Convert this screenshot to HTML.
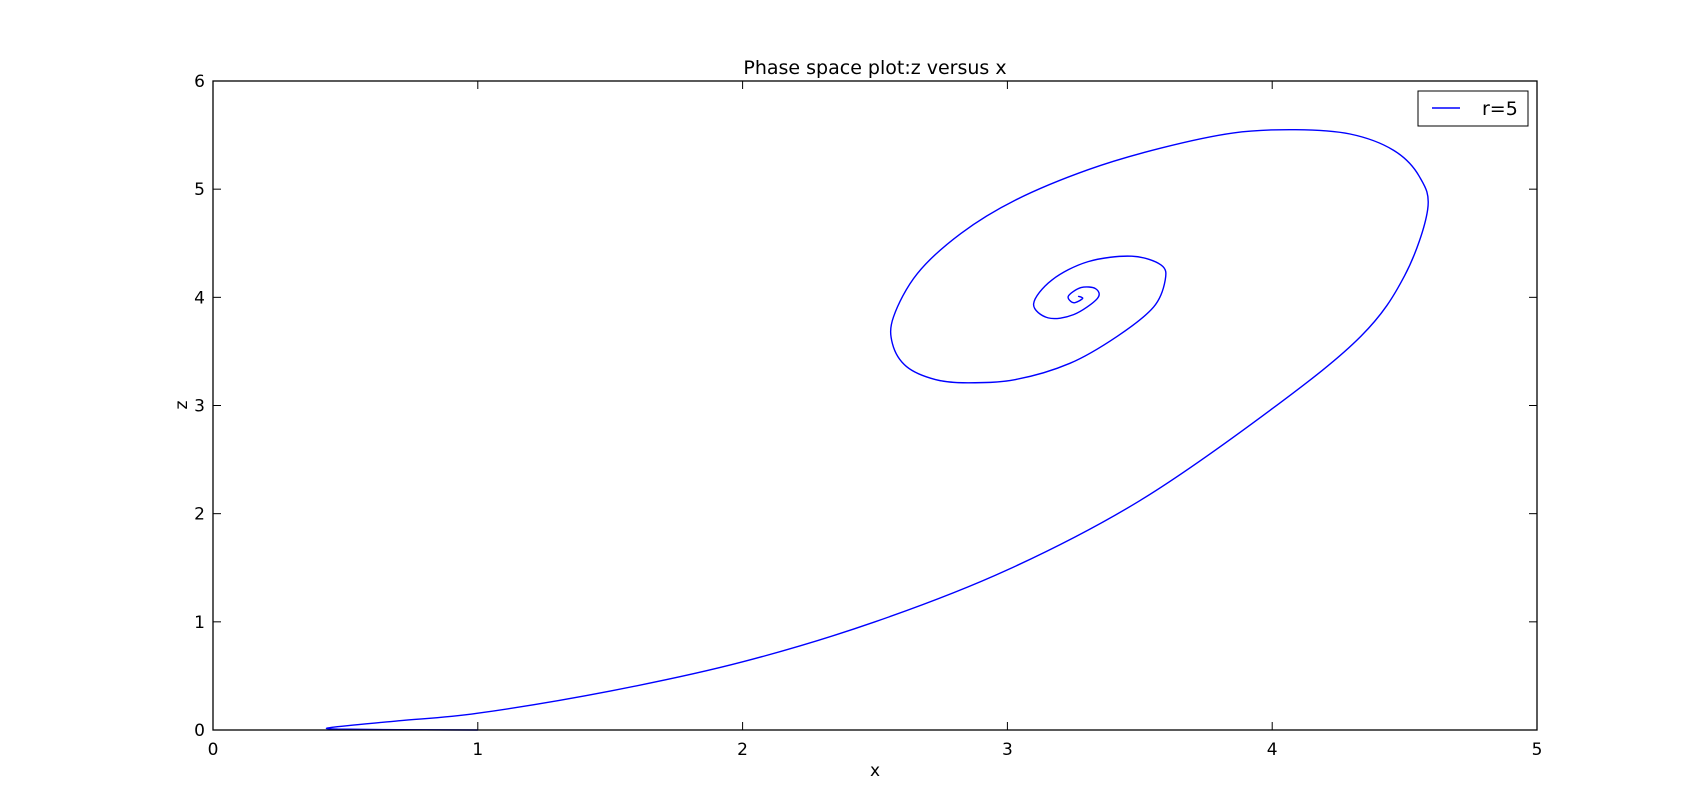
<!DOCTYPE html>
<html><head><meta charset="utf-8"><style>
body{margin:0;background:#fff;}
svg{display:block;font-family:"DejaVu Sans","Liberation Sans",sans-serif;}
</style></head><body>
<svg id="chart" width="1707" height="811" viewBox="0 0 1707 811" xmlns="http://www.w3.org/2000/svg">
<rect width="1707" height="811" fill="#fff"/>
<text x="875" y="74" font-size="19" text-anchor="middle">Phase space plot:z versus x</text>
<g id="ticks"></g>
<path id="curve" fill="none" stroke="#0000ff" stroke-width="1.4"/>
<rect x="213" y="81" width="1324" height="649" fill="none" stroke="#000" stroke-width="1.3"/>
<text x="875" y="776" font-size="17" text-anchor="middle">x</text>
<text x="187" y="405" font-size="17" text-anchor="middle" transform="rotate(-90 187 405)">z</text>
<g>
<rect x="1418" y="91" width="110" height="35" fill="#fff" stroke="#000" stroke-width="1"/>
<line x1="1432" y1="108" x2="1460" y2="108" stroke="#0000ff" stroke-width="1.4"/>
<text x="1482" y="115" font-size="19">r=5</text>
</g>
</svg>
<script>
const xTicks=[0,1,2,3,4,5];
const yTicks=[0,1,2,3,4,5,6];
const xs=[1,0.7,0.47,0.45,0.7,1.0,1.5,2.0,2.5,3.0,3.5,4.0,4.335,4.5,4.587,4.555,4.458,4.294,4.088,3.854,3.58,3.305,3.031,2.824,2.66,2.57,2.566,2.619,2.728,2.852,3.031,3.236,3.415,3.552,3.596,3.58,3.47,3.305,3.168,3.099,3.154,3.25,3.34,3.333,3.278,3.23,3.25,3.284,3.267];
const zs=[0,0.003,0.008,0.025,0.085,0.155,0.36,0.63,1.0,1.48,2.12,2.97,3.64,4.2,4.81,5.12,5.36,5.51,5.55,5.52,5.38,5.18,4.9,4.59,4.22,3.82,3.57,3.36,3.24,3.21,3.24,3.39,3.64,3.91,4.16,4.3,4.38,4.33,4.16,3.94,3.81,3.84,3.99,4.08,4.09,4.01,3.95,3.99,4.01];
const L=213,R=1537,T=81,B=730;
function sx(v){return L+(v-0)/(5-0)*(R-L);}
function sy(v){return B-(v-0)/(6-0)*(B-T);}
const NS="http://www.w3.org/2000/svg";
const g=document.getElementById('ticks');
function mk(tag,attrs){const e=document.createElementNS(NS,tag);for(const k in attrs)e.setAttribute(k,attrs[k]);g.appendChild(e);return e;}
xTicks.forEach(t=>{
  const x=sx(t);
  const a=mk('line',{x1:x,y1:B,x2:x,y2:B-8,stroke:'#000'});
  
  
  const b=mk('line',{x1:x,y1:T,x2:x,y2:T+8,stroke:'#000'});
  
  
  const tx=mk('text',{x:x,y:B+25,'font-size':17,'text-anchor':'middle'});
  tx.textContent=t;
  
  
});
yTicks.forEach(t=>{
  const y=sy(t);
  const a=mk('line',{x1:L,y1:y,x2:L+8,y2:y,stroke:'#000'});
  
  
  const b=mk('line',{x1:R,y1:y,x2:R-8,y2:y,stroke:'#000'});
  
  
  const tx=mk('text',{x:L-8,y:y+6,'font-size':17,'text-anchor':'end'});
  tx.textContent=t;
  
  
});
const P=xs.map((v,i)=>[sx(v),sy(zs[i])]);
let d='M'+P[0][0]+','+P[0][1]+' L'+P[1][0]+','+P[1][1]+' L'+P[2][0]+','+P[2][1];
for(let i=2;i<P.length-1;i++){
  const p0=P[i-1],p1=P[i],p2=P[i+1],p3=P[Math.min(i+2,P.length-1)];
  const c1=[p1[0]+(p2[0]-p0[0])/6,p1[1]+(p2[1]-p0[1])/6];
  const c2=[p2[0]-(p3[0]-p1[0])/6,p2[1]-(p3[1]-p1[1])/6];
  d+=` C${c1[0]},${c1[1]} ${c2[0]},${c2[1]} ${p2[0]},${p2[1]}`;
}
document.getElementById('curve').setAttribute('d',d);
</script>
</body></html>
